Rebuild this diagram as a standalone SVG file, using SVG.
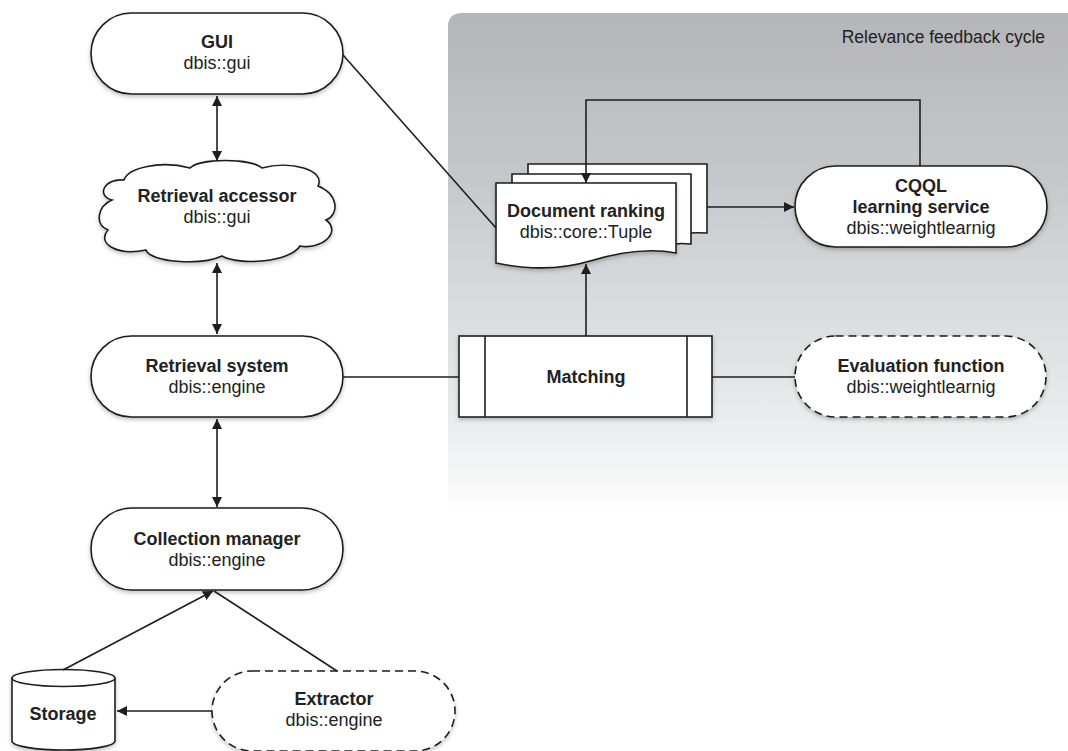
<svg xmlns="http://www.w3.org/2000/svg" width="1068" height="751" viewBox="0 0 1068 751">
  <style>
    .node { fill: #ffffff; stroke: #1e1e1e; stroke-width: 1.6; }
    .dashed { stroke-dasharray: 8 5; }
    .title { font-family: "Liberation Sans", Arial, sans-serif; font-size: 18px; font-weight: bold; fill: #222; text-anchor: middle; }
    .sub { font-family: "Liberation Sans", Arial, sans-serif; font-size: 18px; fill: #222; text-anchor: middle; }
    .edge { fill: none; stroke: #1e1e1e; stroke-width: 1.6; }
    .region-label { font-family: "Liberation Sans", Arial, sans-serif; font-size: 17.5px; fill: #222; text-anchor: end; }
  </style>
  <defs>
    <linearGradient id="regionFill" x1="0" y1="0" x2="0" y2="1">
      <stop offset="0" stop-color="#b5b6b9"/>
      <stop offset="0.3" stop-color="#c4c5c8"/>
      <stop offset="0.57" stop-color="#d9dadd"/>
      <stop offset="0.85" stop-color="#eeeff0"/>
      <stop offset="1" stop-color="#ffffff"/>
    </linearGradient>
    <filter id="shadow" x="-10%" y="-10%" width="120%" height="130%">
      <feDropShadow dx="0" dy="2" stdDeviation="2" flood-color="#000" flood-opacity="0.25"/>
    </filter>
    <marker id="arrow" viewBox="0 0 10 10" refX="10" refY="5" markerWidth="10" markerHeight="10" markerUnits="userSpaceOnUse" orient="auto-start-reverse">
      <path d="M0,0 L10,5 L0,10 Z" fill="#1e1e1e"/>
    </marker>
  </defs>

  <!-- background -->
  <rect x="0" y="0" width="1068" height="751" fill="#ffffff"/>

  <!-- relevance feedback region -->
  <g id="relevance-region">
    <path d="M448,515 L448,27 Q448,13 462,13 L1068,13 L1068,515 Z" fill="url(#regionFill)"/>
    <text class="region-label" x="1045" y="43">Relevance feedback cycle</text>
  </g>

  <!-- GUI -->
  <g id="gui">
    <rect class="node" x="91" y="13" width="252" height="81" rx="40.5" filter="url(#shadow)"/>
    <text class="title" x="217" y="48">GUI</text>
    <text class="sub" x="217" y="69">dbis::gui</text>
  </g>

  <!-- Retrieval accessor (cloud) -->
  <g id="retrieval-accessor">
    <path class="node" filter="url(#shadow)" d="M112,200 C96,196 104,178 124,180 C128,168 160,160 190,168 C200,158 250,158 262,168 C290,160 326,170 318,186 C338,194 340,214 326,220 C342,232 322,250 300,246 C290,262 240,266 222,256 C200,266 150,262 146,250 C118,256 96,244 108,230 C94,224 98,206 112,200 Z"/>
    <text class="title" x="217" y="202">Retrieval accessor</text>
    <text class="sub" x="217" y="223">dbis::gui</text>
  </g>

  <!-- Retrieval system -->
  <g id="retrieval-system">
    <rect class="node" x="91" y="336" width="252" height="81" rx="40.5" filter="url(#shadow)"/>
    <text class="title" x="217" y="372">Retrieval system</text>
    <text class="sub" x="217" y="393">dbis::engine</text>
  </g>

  <!-- Collection manager -->
  <g id="collection-manager">
    <rect class="node" x="91" y="508" width="252" height="82" rx="41" filter="url(#shadow)"/>
    <text class="title" x="217" y="545">Collection manager</text>
    <text class="sub" x="217" y="566">dbis::engine</text>
  </g>

  <!-- Storage (cylinder) -->
  <g id="storage">
    <path class="node" filter="url(#shadow)" d="M12,678 L12,741 A51.5,9 0 0 0 115,741 L115,678 A51.5,8.5 0 0 0 12,678 Z"/>
    <path class="edge" d="M12,678 A51.5,8.5 0 0 0 115,678"/>
    <text class="title" x="63" y="720">Storage</text>
  </g>

  <!-- Extractor -->
  <g id="extractor">
    <rect class="node dashed" x="212" y="671" width="243" height="80" rx="40" filter="url(#shadow)"/>
    <text class="title" x="334" y="705">Extractor</text>
    <text class="sub" x="334" y="726">dbis::engine</text>
  </g>

  <!-- Document ranking (stacked pages) -->
  <g id="document-ranking">
    <path class="node" d="M528,164 L707,164 L707,233 C690,232 680,234 676,236 L528,236 Z"/>
    <path class="node" d="M512,174 L691,174 L691,244 C680,243 676,244 676,244 L512,244 Z"/>
    <path class="node" filter="url(#shadow)" d="M496,183 L676,183 L676,253 C650,248 620,252 590,261 C560,270 530,270 496,263 Z"/>
    <text class="title" x="586" y="217">Document ranking</text>
    <text class="sub" x="586" y="238">dbis::core::Tuple</text>
  </g>

  <!-- CQQL learning service -->
  <g id="cqql-learning-service">
    <rect class="node" x="795" y="166" width="252" height="81" rx="40.5" filter="url(#shadow)"/>
    <text class="title" x="921" y="192">CQQL</text>
    <text class="title" x="921" y="213">learning service</text>
    <text class="sub" x="921" y="234">dbis::weightlearnig</text>
  </g>

  <!-- Matching (predefined process) -->
  <g id="matching">
    <rect class="node" x="459" y="336" width="253" height="81" filter="url(#shadow)"/>
    <line class="edge" x1="485" y1="336" x2="485" y2="417"/>
    <line class="edge" x1="687" y1="336" x2="687" y2="417"/>
    <text class="title" x="586" y="383">Matching</text>
  </g>

  <!-- Evaluation function -->
  <g id="evaluation-function">
    <rect class="node dashed" x="795" y="336" width="251" height="81" rx="40.5" filter="url(#shadow)"/>
    <text class="title" x="921" y="372">Evaluation function</text>
    <text class="sub" x="921" y="393">dbis::weightlearnig</text>
  </g>

  <!-- connectors (drawn on top so the feedback arrow crosses the stacked pages) -->
  <g id="connectors">
    <line class="edge" x1="217" y1="96" x2="217" y2="161" marker-start="url(#arrow)" marker-end="url(#arrow)"/>
    <line class="edge" x1="217" y1="263" x2="217" y2="334" marker-start="url(#arrow)" marker-end="url(#arrow)"/>
    <line class="edge" x1="217" y1="419" x2="217" y2="507" marker-start="url(#arrow)" marker-end="url(#arrow)"/>
    <line class="edge" x1="343" y1="55" x2="496" y2="228"/>
    <line class="edge" x1="343" y1="377" x2="459" y2="377"/>
    <line class="edge" x1="712" y1="377" x2="795" y2="377"/>
    <line class="edge" x1="586" y1="336" x2="586" y2="264" marker-end="url(#arrow)"/>
    <line class="edge" x1="707" y1="207" x2="794" y2="207" marker-end="url(#arrow)"/>
    <polyline class="edge" points="920,166 920,100 586,100 586,183" marker-end="url(#arrow)"/>
    <line class="edge" x1="63" y1="670" x2="213" y2="591" marker-end="url(#arrow)"/>
    <line class="edge" x1="337" y1="671" x2="214" y2="591"/>
    <line class="edge" x1="212" y1="711" x2="117" y2="711" marker-end="url(#arrow)"/>
  </g>
</svg>
